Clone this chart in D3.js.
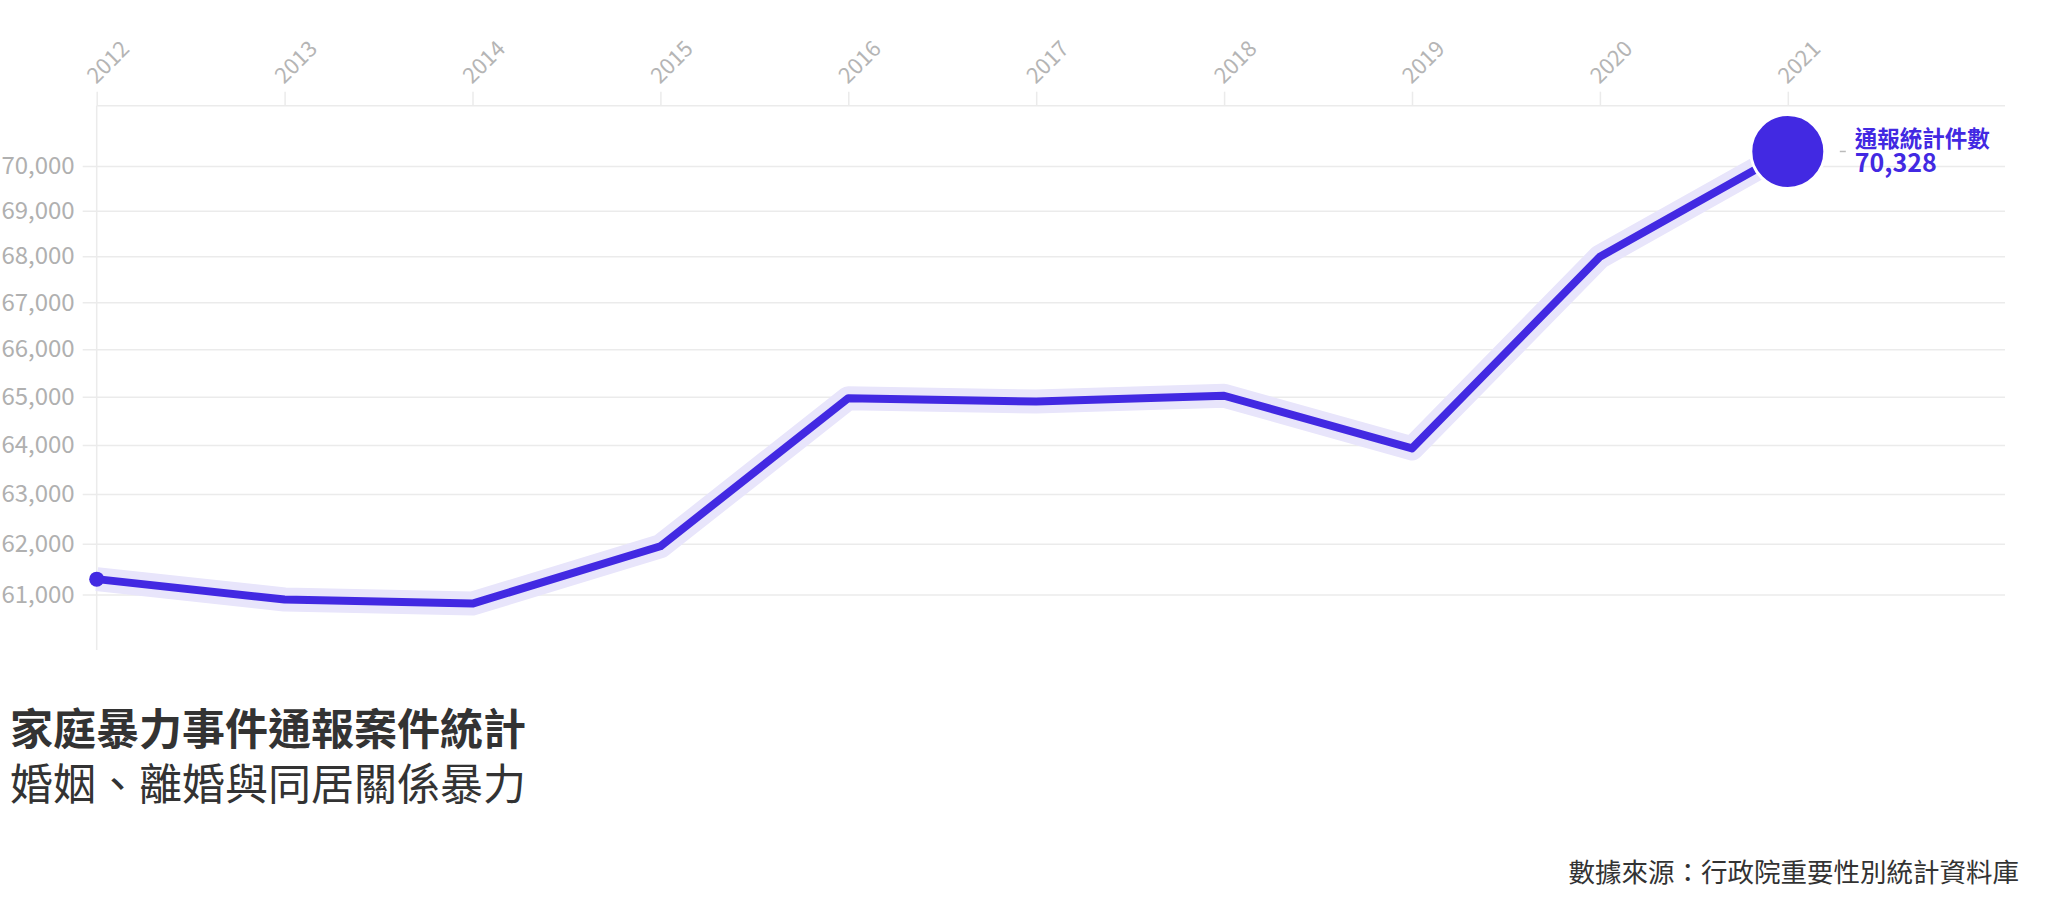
<!DOCTYPE html>
<html>
<head>
<meta charset="utf-8">
<script src="https://cdn.jsdelivr.net/npm/d3@7"></script>
<style>
  body { margin: 0; background: #fff; }
  svg { display: block; font-family: "Noto Sans CJK TC", "Noto Sans", sans-serif; }
</style>
</head>
<body>
<svg id="chart"></svg>
<script>
//DATA
const years = [2012, 2013, 2014, 2015, 2016, 2017, 2018, 2019, 2020, 2021];
const counts = [61300, 60900, 60820, 61950, 64970, 64900, 65020, 63930, 67990, 70328];
const yTicks = [61000, 62000, 63000, 64000, 65000, 66000, 67000, 68000, 69000, 70000];
const seriesName = '通報統計件數';
const title = '家庭暴力事件通報案件統計';
const subtitle = '婚姻、離婚與同居關係暴力';
const source = '數據來源：行政院重要性別統計資料庫';

function buildChart() {
    const width = 2048;
    const height = 899;
    const svg = d3.select('#chart').attr('width', width).attr('height', height);

    const purple = '#4229e2';
    const font = '"Noto Sans CJK TC", "Noto Sans", sans-serif';
    const left = 96.7, right = 2005, top = 105.7, bottom = 650;

    //x is linear over years, y is a log scale (grid spacing grows downward)
    const x = d3.scaleLinear().domain([2012, 2021]).range([left, 1787.8]);
    const y = d3.scaleLog().domain([59920, 71370]).range([bottom, top]);

    //y axis with gridlines across the plot
    const yAxis = svg.append('g')
        .attr('transform', `translate(${left},0)`)
        .call(d3.axisLeft(y).tickValues(yTicks).tickFormat(d3.format(',')).tickSize(0).tickPadding(22))
        .attr('font-family', font);
    yAxis.select('.domain').remove();
    yAxis.selectAll('.tick line')
        .attr('x1', -14).attr('x2', right - left)
        .attr('stroke', '#ebebeb').attr('stroke-width', 1.5);
    yAxis.selectAll('.tick text')
        .attr('fill', '#b0b0b0').style('font-size', '24px');

    //vertical axis line
    svg.append('line')
        .attr('x1', left).attr('x2', left)
        .attr('y1', top).attr('y2', bottom)
        .attr('stroke', '#ebebeb').attr('stroke-width', 1.5);

    //x axis on top, labels rotated
    const xAxis = svg.append('g')
        .attr('transform', `translate(0,${top})`)
        .call(d3.axisTop(x).tickValues(years).tickFormat(d3.format('d')).tickSize(14).tickSizeOuter(0))
        .attr('font-family', font);
    xAxis.select('.domain').remove();
    xAxis.selectAll('.tick line').attr('stroke', '#ebebeb').attr('stroke-width', 1.5);
    xAxis.selectAll('.tick text')
        .attr('y', 0).attr('dy', 0)
        .attr('transform', 'translate(-1,-21) rotate(-45)')
        .attr('text-anchor', 'start')
        .attr('fill', '#b5b5b5').style('font-size', '22px');

    svg.append('line')
        .attr('x1', left).attr('x2', right)
        .attr('y1', top).attr('y2', top)
        .attr('stroke', '#ebebeb').attr('stroke-width', 1.5);

    //line with soft halo
    const line = d3.line().x((d, i) => x(years[i])).y(d => y(d));
    svg.append('path')
        .attr('d', line(counts))
        .attr('fill', 'none')
        .attr('stroke', '#e8e5fb')
        .attr('stroke-width', 24)
        .attr('stroke-linejoin', 'round');
    svg.append('path')
        .attr('d', line(counts))
        .attr('fill', 'none')
        .attr('stroke', purple)
        .attr('stroke-width', 8)
        .attr('stroke-linejoin', 'round');

    //start dot and end dot
    svg.append('circle')
        .attr('cx', x(years[0])).attr('cy', y(counts[0]))
        .attr('r', 7.5).attr('fill', purple);

    const last = counts.length - 1;
    const ex = x(years[last]), ey = y(counts[last]);
    svg.append('circle')
        .attr('cx', ex).attr('cy', ey)
        .attr('r', 37).attr('fill', purple)
        .attr('stroke', '#fff').attr('stroke-width', 3);

    //end label
    svg.append('line')
        .attr('x1', ex + 52).attr('x2', ex + 58)
        .attr('y1', ey).attr('y2', ey)
        .attr('stroke', '#bbb').attr('stroke-width', 1.5);
    const lbl = svg.append('text')
        .attr('x', ex + 67)
        .attr('fill', purple)
        .style('font-weight', 'bold');
    lbl.append('tspan').attr('x', ex + 67).attr('y', ey - 4).style('font-size', '22.5px').text(seriesName);
    lbl.append('tspan').attr('x', ex + 67).attr('y', ey + 21).style('font-size', '25px').text(d3.format(',')(counts[last]));

    //titles and source
    svg.append('text')
        .attr('x', 10).attr('y', 745)
        .attr('fill', '#333')
        .style('font-size', '43px').style('font-weight', 'bold')
        .text(title);
    svg.append('text')
        .attr('x', 10).attr('y', 800)
        .attr('fill', '#333')
        .style('font-size', '43px')
        .text(subtitle);
    svg.append('text')
        .attr('x', 2019).attr('y', 882)
        .attr('text-anchor', 'end')
        .attr('fill', '#333')
        .style('font-size', '26.5px')
        .text(source);
}

buildChart();
</script>
</body>
</html>
